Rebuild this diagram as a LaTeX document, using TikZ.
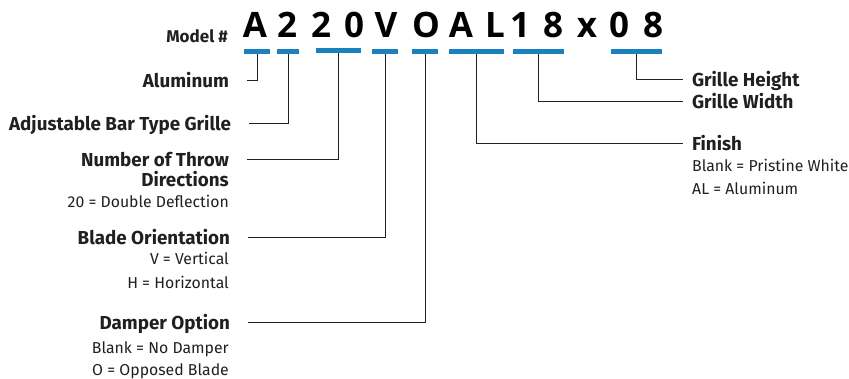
\documentclass[tikz,border=0pt]{standalone}
\usepackage{fontspec}
\setmainfont{Fira Sans}
\newfontfamily\codefont{Open Sans}
\usetikzlibrary{positioning}
\definecolor{codeblue}{RGB}{27, 128, 192}
\definecolor{inkgray}{RGB}{35, 31, 32}
\tikzset{
 codeletter/.style={
 anchor=base,
 inner sep=0pt,
 text=black,
 font=\codefont\bfseries\fontsize{35}{40}\selectfont
 },
 bar/.style={
 rectangle,
 fill=codeblue,
 inner sep=0pt,
 minimum height=5pt
 },
 lefttitle/.style={
 anchor=east,
 inner sep=0pt,
 outer xsep=18pt,
 text height=13pt,
 text depth=0pt,
 text=inkgray,
 font=\bfseries\fontsize{18.8}{22}\selectfont
 },
 righttitle/.style={
 lefttitle,
 anchor=west,
 outer xsep=9pt
 },
 leftnote/.style={
 anchor=base east,
 inner sep=0pt,
 text=inkgray,
 font=\fontsize{15.8}{18}\selectfont
 },
 rightnote/.style={
 leftnote,
 anchor=base west
 },
 leader/.style={draw=inkgray, line width=1pt}
}

\begin{document}
\begin{tikzpicture}[x=1pt, y=-1pt]
	\useasboundingbox (0,0) rectangle (849,379);
  
	% model code
	\node[anchor=base east, inner sep=0pt, text=inkgray, font=\bfseries\fontsize{17}{20}\selectfont] (model) at (228,43) {Model \#};
	\node[codeletter] (c1) at (255,38) {A};
	\node[codeletter] (c2) at (287,38) {2};
	\node[codeletter] (c3) at (321,38) {2};
	\node[codeletter] (c4) at (354,38) {0};
	\node[codeletter] (c5) at (386,38) {V};
	\node[codeletter] (c6) at (426,38) {O};
	\node[codeletter] (c7) at (461,38) {A};
	\node[codeletter] (c8) at (495,38) {L};
	\node[codeletter] (c9) at (520,38) {1};
	\node[codeletter] (c10) at (553,38) {8};
	\node[codeletter] (c11) at (587,38) {x};
	\node[codeletter] (c12) at (619,38) {0};
	\node[codeletter] (c13) at (653,38) {8};
  
	% blue bars
	\node[bar, minimum width=26pt] (b1) at (257,51.5) {};
	\node[bar, minimum width=22pt] (b2) at (288,51.5) {};
	\node[bar, minimum width=45pt] (b3) at (338.5,50.5) {};
	\node[bar, minimum width=26pt] (b4) at (385,51.5) {};
	\node[bar, minimum width=26pt] (b5) at (425,51.5) {};
	\node[bar, minimum width=55pt] (b6) at (476.5,51.5) {};
	\node[bar, minimum width=51pt] (b7) at (538.5,51.5) {};
	\node[bar, minimum width=51pt] (b8) at (636.5,51.5) {};
  
	% left side
	\node[lefttitle] (alu) at (247,81) {Aluminum};
	\node[lefttitle] (grille) at (249,124) {Adjustable Bar Type Grille};
	\node[lefttitle] (throw) at (247,160) {Number of Throw};
	\node[leftnote, font=\bfseries\fontsize{18.8}{22}\selectfont] (throw2) at (229,187) {Directions};
	\node[leftnote] (throw3) at (229,208) {20 = Double Deflection};
	\node[lefttitle] (blade) at (248,238) {Blade Orientation};
	\node[leftnote] (blade2) at (229,265) {V = Vertical};
	\node[leftnote] (blade3) at (229,289) {H = Horizontal};
	\node[lefttitle] (damper) at (248,323) {Damper Option};
	\node[leftnote] (damper2) at (229,353) {Blank = No Damper};
	\node[leftnote] (damper3) at (229,375) {O = Opposed Blade};
  
	% right side
	\node[righttitle] (height) at (683,80) {Grille Height};
	\node[righttitle] (width) at (683,102) {Grille Width};
	\node[righttitle] (finish) at (683,144) {Finish};
	\node[rightnote] (finish2) at (692,172) {Blank = Pristine White};
	\node[rightnote] (finish3) at (692,195) {AL = Aluminum};
  
	\draw[leader] (b1.south) |- (alu.east);
	\draw[leader] (b2.south) |- (grille.east);
	\draw[leader] (b3.south) |- (throw.east);
	\draw[leader] (b4.south) |- (blade.east);
	\draw[leader] (b5.south) |- (damper.east);
	\draw[leader] (b6.south) |- (finish.west);
	\draw[leader] (b7.south) |- (width.west);
	\draw[leader] (b8.south) |- (height.west);
\end{tikzpicture}
\end{document}
